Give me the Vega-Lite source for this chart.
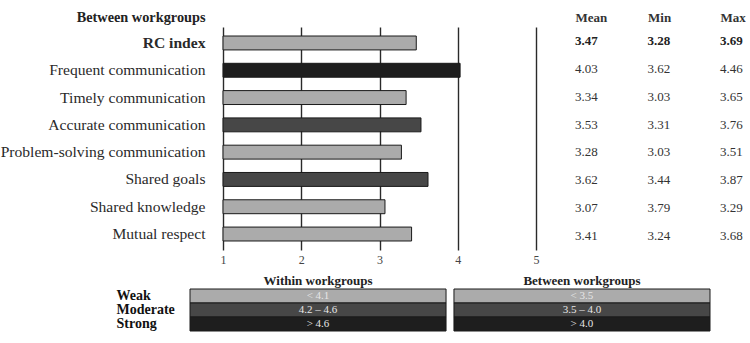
{
  "$schema": "https://vega.github.io/schema/vega-lite/v6.json",
  "background": "white",
  "padding": {"left": 0, "top": 10, "right": 0, "bottom": 0},
  "config": {
    "font": "Liberation Serif",
    "view": {"stroke": null},
    "axis": {"labelColor": "#222", "titleColor": "#222", "labelFont": "Liberation Serif", "titleFont": "Liberation Serif"},
    "text": {"font": "Liberation Serif"}
  },
  "datasets": {
    "rc": [
      {"metric": "RC index", "Mean": 3.47, "Min": 3.28, "Max": 3.69, "level": "Weak", "bold": "yes"},
      {"metric": "Frequent communication", "Mean": 4.03, "Min": 3.62, "Max": 4.46, "level": "Strong", "bold": "no"},
      {"metric": "Timely communication", "Mean": 3.34, "Min": 3.03, "Max": 3.65, "level": "Weak", "bold": "no"},
      {"metric": "Accurate communication", "Mean": 3.53, "Min": 3.31, "Max": 3.76, "level": "Moderate", "bold": "no"},
      {"metric": "Problem-solving communication", "Mean": 3.28, "Min": 3.03, "Max": 3.51, "level": "Weak", "bold": "no"},
      {"metric": "Shared goals", "Mean": 3.62, "Min": 3.44, "Max": 3.87, "level": "Moderate", "bold": "no"},
      {"metric": "Shared knowledge", "Mean": 3.07, "Min": 3.79, "Max": 3.29, "level": "Weak", "bold": "no"},
      {"metric": "Mutual respect", "Mean": 3.41, "Min": 3.24, "Max": 3.68, "level": "Weak", "bold": "no"}
    ],
    "legend": [
      {"group": "Within workgroups", "strength": "Weak", "label": "< 4.1"},
      {"group": "Within workgroups", "strength": "Moderate", "label": "4.2 – 4.6"},
      {"group": "Within workgroups", "strength": "Strong", "label": "> 4.6"},
      {"group": "Between workgroups", "strength": "Weak", "label": "< 3.5"},
      {"group": "Between workgroups", "strength": "Moderate", "label": "3.5 – 4.0"},
      {"group": "Between workgroups", "strength": "Strong", "label": "> 4.0"}
    ]
  },
  "columns": 1,
  "align": "none",
  "bounds": "full",
  "spacing": 9,
  "concat": [
    {
      "spacing": 36,
      "hconcat": [
        {
          "width": 313,
          "height": 223,
          "data": {"name": "rc"},
          "mark": {"type": "bar", "stroke": "#1a1a1a", "strokeWidth": 1},
          "encoding": {
            "y": {
              "field": "metric", "type": "nominal",
              "sort": ["RC index", "Frequent communication", "Timely communication", "Accurate communication", "Problem-solving communication", "Shared goals", "Shared knowledge", "Mutual respect"],
              "scale": {"paddingInner": 0.49, "paddingOuter": 0.33},
              "axis": {
                "title": "Between workgroups", "titleAngle": 0, "titleAlign": "right", "titleBaseline": "middle",
                "titleX": -18, "titleY": -10, "titleFontSize": 14.3, "titleFontWeight": "bold",
                "labelFontSize": 15.6, "labelPadding": 18, "labelLimit": 0, "ticks": false, "domain": false, "labelColor": "#2a2a2a",
                "labelFontWeight": {"condition": {"test": "datum.label == 'RC index'", "value": "bold"}, "value": "normal"}
              }
            },
            "x": {
              "field": "Mean", "type": "quantitative",
              "scale": {"domain": [1, 5], "zero": false, "nice": false},
              "axis": {
                "values": [1, 2, 3, 4, 5], "grid": true, "gridColor": "#2a2a2a", "gridWidth": 1.4, "gridOpacity": 1,
                "domain": false, "ticks": false, "title": null, "labelPadding": 4, "labelFontSize": 12, "labelFlush": false, "labelColor": "#444"
              }
            },
            "x2": {"datum": 1},
            "color": {
              "field": "level", "type": "nominal",
              "scale": {"domain": ["Weak", "Moderate", "Strong"], "range": ["#ababab", "#474747", "#1e1e1e"]},
              "legend": null
            }
          }
        },
        {
          "width": 145,
          "height": 223,
          "data": {"name": "rc"},
          "transform": [{"fold": ["Mean", "Min", "Max"], "as": ["stat", "val"]}],
          "encoding": {
            "y": {
              "field": "metric", "type": "nominal",
              "sort": ["RC index", "Frequent communication", "Timely communication", "Accurate communication", "Problem-solving communication", "Shared goals", "Shared knowledge", "Mutual respect"],
              "scale": {"paddingInner": 0.49, "paddingOuter": 0.33}, "axis": null
            },
            "x": {
              "field": "stat", "type": "nominal", "sort": ["Mean", "Min", "Max"],
              "scale": {"type": "point", "padding": 0},
              "axis": {"orient": "top", "title": null, "domain": false, "ticks": false, "labelAlign": "left", "labelAngle": 0,
                       "labelBaseline": "middle", "labelPadding": 10, "labelFontSize": 13, "labelFontWeight": "bold", "labelColor": "#333"}
            },
            "text": {"field": "val", "type": "quantitative", "format": ".2f"}
          },
          "layer": [
            {"transform": [{"filter": "datum.bold == 'no'"}], "mark": {"type": "text", "align": "left", "baseline": "middle", "fontSize": 13, "color": "#333"}},
            {"transform": [{"filter": "datum.bold == 'yes'"}], "mark": {"type": "text", "align": "left", "baseline": "middle", "fontSize": 13, "fontWeight": "bold", "color": "#222"}}
          ]
        }
      ]
    },
    {
      "width": 487,
      "height": 42,
      "data": {"name": "legend"},
      "encoding": {
        "x": {
          "field": "group", "type": "nominal", "sort": ["Within workgroups", "Between workgroups"],
          "scale": {"paddingInner": 0.03, "paddingOuter": 0, "range": [-33, 487]},
          "axis": {"orient": "top", "title": null, "labelAngle": 0, "labelFontWeight": "bold", "ticks": false, "domain": false,
                   "labelBaseline": "middle", "labelPadding": 9, "labelFontSize": 13}
        },
        "y": {
          "field": "strength", "type": "nominal", "sort": ["Weak", "Moderate", "Strong"],
          "scale": {"paddingInner": 0, "paddingOuter": 0},
          "axis": {"title": null, "labelAlign": "left", "labelPadding": 107, "ticks": false, "domain": false,
                   "labelFontWeight": "bold", "labelFontSize": 14, "labelColor": "#111"}
        }
      },
      "layer": [
        {
          "mark": {"type": "rect", "stroke": "#1a1a1a", "strokeWidth": 1},
          "encoding": {
            "color": {
              "field": "strength", "type": "nominal",
              "scale": {"domain": ["Weak", "Moderate", "Strong"], "range": ["#a9a9a9", "#4c4c4c", "#262626"]},
              "legend": null
            }
          }
        },
        {
          "mark": {"type": "text", "color": "#e6e6e6", "fontSize": 11, "baseline": "middle"},
          "encoding": {"text": {"field": "label", "type": "nominal"}}
        }
      ]
    }
  ]
}
